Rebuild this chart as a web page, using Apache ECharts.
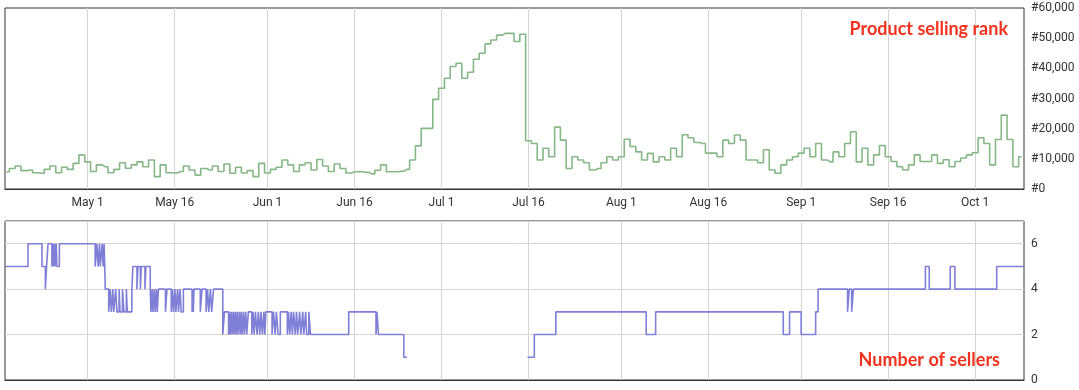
<!DOCTYPE html>
<html>
<head>
<meta charset="utf-8">
<script src="https://cdn.jsdelivr.net/npm/echarts@6/dist/echarts.min.js"></script>
<style>html,body{margin:0;padding:0;background:#fff}#c{width:1079px;height:390px}</style>
</head>
<body>
<div id="c"></div>
<script>
// ---- data ----
const axisStart = '2017-04-16 18:00';
const axisEnd = '2017-10-09 10:00';
const rankStartDate = [2017, 3, 17]; // first daily rank reading: Apr 17
const tickDates = ['2017-05-01','2017-05-16','2017-06-01','2017-06-16','2017-07-01','2017-07-16',
  '2017-08-01','2017-08-16','2017-09-01','2017-09-16','2017-10-01'];
const monthNames = ['Jan','Feb','Mar','Apr','May','Jun','Jul','Aug','Sep','Oct','Nov','Dec'];
const rankTicks = [0, 10000, 20000, 30000, 40000, 50000, 60000];
const sellerTicks = [0, 2, 4, 6];

const rankValues = [
 5700,6800,7600,6100,6300,5400,5200,6500,7600,5400,
 7200,6500,8500,11300,9000,5800,8000,7400,5400,6500,
 8700,6900,8000,9000,7400,9600,4100,8000,5400,5300,
 5800,7600,6300,4600,6800,6300,7600,5800,8300,5200,
 7200,5300,6100,4100,8500,5300,6500,7200,9600,8000,
 5800,8000,8700,6300,9800,7600,5800,8300,6800,5300,
 5700,5700,5500,5000,6200,8000,5700,5700,5900,6500,
 9600,14300,20100,20100,29700,33400,36700,40600,41700,36700,
 38700,43000,45000,48100,49400,51000,51600,51600,48900,51300,
 16000,15100,9600,13500,10700,20500,16200,6800,10700,9600,
 8700,6300,6800,8700,10700,9600,10700,16500,14100,12300,
 9600,11800,9000,10700,9600,13500,10700,18000,17000,15400,
 15100,11900,11900,10700,16200,15100,17900,16200,9600,9600,
 8700,13000,6300,5200,8000,9600,10700,11900,13500,10700,
 15100,9600,9000,12300,10700,15100,19000,9000,13500,8000,
 11300,14400,10700,9100,7400,6300,8000,11300,9100,9100,
 11300,8500,9700,7400,9100,10300,11300,12000,17000,15100,
 8000,16400,24500,16400,7400,10700
];

const sellerChanges = [
 ['2017-04-16 18:00',5],['2017-04-20 17:00',6],['2017-04-23 03:00',5],['2017-04-23 17:00',4],
 ['2017-04-23 22:00',5],['2017-04-24 04:00',6],['2017-04-24 20:00',5],['2017-04-25 01:00',6],
 ['2017-04-25 03:00',5],['2017-04-25 07:00',6],['2017-04-25 09:00',5],['2017-04-25 14:00',6],
 ['2017-04-25 17:00',5],['2017-04-26 03:00',6],
 ['2017-05-02 07:00',5],['2017-05-02 14:00',6],['2017-05-02 19:00',5],['2017-05-03 01:00',6],
 ['2017-05-03 04:00',5],['2017-05-03 12:00',6],['2017-05-03 16:00',5],['2017-05-03 20:00',6],
 ['2017-05-04 01:00',4],['2017-05-04 15:00',3],['2017-05-04 21:00',4],['2017-05-05 02:00',3],
 ['2017-05-05 08:00',4],['2017-05-05 12:00',3],['2017-05-05 20:00',4],['2017-05-06 01:00',3],
 ['2017-05-06 10:00',4],['2017-05-06 14:00',3],['2017-05-07 00:00',4],['2017-05-07 06:00',3],
 ['2017-05-07 16:00',4],['2017-05-07 20:00',3],['2017-05-08 15:00',4],['2017-05-08 19:00',5],
 ['2017-05-09 12:00',4],['2017-05-09 16:00',5],['2017-05-10 02:00',4],['2017-05-10 06:00',5],
 ['2017-05-10 21:00',4],['2017-05-11 01:00',5],['2017-05-11 19:00',4],
 ['2017-05-11 22:00',3],['2017-05-12 03:00',4],['2017-05-12 06:00',3],['2017-05-12 12:00',4],
 ['2017-05-12 15:00',3],['2017-05-12 21:00',4],['2017-05-13 00:00',3],['2017-05-13 05:00',4],
 ['2017-05-14 10:00',3],['2017-05-14 16:00',4],
 ['2017-05-15 10:00',3],['2017-05-15 15:00',4],['2017-05-15 19:00',3],['2017-05-16 01:00',4],
 ['2017-05-16 05:00',3],['2017-05-16 12:00',4],['2017-05-16 16:00',3],['2017-05-16 22:00',4],
 ['2017-05-17 03:00',3],['2017-05-17 12:00',4],
 ['2017-05-19 00:00',3],['2017-05-19 03:00',4],['2017-05-19 05:00',3],['2017-05-19 08:00',4],
 ['2017-05-20 10:00',3],['2017-05-20 17:00',4],
 ['2017-05-21 10:00',3],['2017-05-21 16:00',4],['2017-05-21 21:00',3],['2017-05-22 04:00',4],
 ['2017-05-22 09:00',3],['2017-05-22 17:00',4],
 ['2017-05-24 07:00',2],['2017-05-24 14:00',3],
 ['2017-05-25 07:00',2],['2017-05-25 11:00',3],['2017-05-25 14:00',2],['2017-05-25 19:00',3],
 ['2017-05-25 22:00',2],['2017-05-26 03:00',3],['2017-05-26 06:00',2],['2017-05-26 11:00',3],
 ['2017-05-26 14:00',2],['2017-05-26 19:00',3],['2017-05-26 22:00',2],['2017-05-27 04:00',3],
 ['2017-05-27 07:00',2],['2017-05-27 12:00',3],['2017-05-27 15:00',2],['2017-05-27 21:00',3],
 ['2017-05-28 00:00',2],['2017-05-28 06:00',3],['2017-05-28 10:00',2],['2017-05-28 17:00',3],
 ['2017-05-29 07:00',2],['2017-05-29 12:00',3],['2017-05-29 17:00',2],['2017-05-29 22:00',3],
 ['2017-05-30 05:00',2],['2017-05-30 10:00',3],['2017-05-30 16:00',2],['2017-05-30 21:00',3],
 ['2017-05-31 03:00',2],['2017-05-31 09:00',3],['2017-05-31 13:00',2],['2017-05-31 17:00',3],
 ['2017-06-01 19:00',2],['2017-06-02 01:00',3],['2017-06-02 08:00',2],['2017-06-02 13:00',3],
 ['2017-06-02 20:00',2],['2017-06-03 05:00',3],
 ['2017-06-04 10:00',2],['2017-06-04 15:00',3],['2017-06-04 20:00',2],['2017-06-05 02:00',3],
 ['2017-06-05 07:00',2],['2017-06-05 12:00',3],
 ['2017-06-05 19:00',2],['2017-06-06 00:00',3],['2017-06-06 05:00',2],['2017-06-06 13:00',3],
 ['2017-06-06 18:00',2],['2017-06-07 02:00',3],['2017-06-07 06:00',2],['2017-06-07 14:00',3],
 ['2017-06-07 18:00',2],['2017-06-08 03:00',3],['2017-06-08 10:00',2],
 ['2017-06-15 00:00',3],['2017-06-19 17:00',2],['2017-06-19 21:00',3],['2017-06-20 03:00',2],
 ['2017-06-24 12:00',1],['2017-06-25 01:00',null],
 ['2017-07-15 20:00',1],['2017-07-17 00:00',2],['2017-07-20 17:00',3],['2017-08-05 07:00',2],
 ['2017-08-06 22:00',3],['2017-08-28 22:00',2],['2017-08-30 00:00',3],['2017-09-01 00:00',2],
 ['2017-09-03 12:00',3],['2017-09-03 22:00',4],['2017-09-09 00:00',3],['2017-09-09 07:00',4],
 ['2017-09-09 17:00',3],['2017-09-10 00:00',4],['2017-09-22 10:00',5],['2017-09-23 02:00',4],
 ['2017-09-26 17:00',5],['2017-09-27 12:00',4],['2017-10-04 17:00',5],['2017-10-09 10:00',5]
];

// ---- build ----
const ts = s => echarts.time.parse(s).getTime();
const rankData = rankValues.map((v, i) => [new Date(rankStartDate[0], rankStartDate[1], rankStartDate[2] + i).getTime(), v]);
const sellerData = sellerChanges.map(p => [ts(p[0]), p[1]]);
const tickValues = tickDates.map(ts);
const fmtDate = v => { const d = new Date(v); return monthNames[d.getMonth()] + ' ' + d.getDate(); };
const fmtRank = v => '#' + v.toLocaleString('en-US');

const chart = echarts.init(document.getElementById('c'), null, {renderer: 'canvas'});
const gridLine = '#d4d4d4';
const lblFont = {color: '#333', fontSize: 12, fontFamily: 'Roboto, sans-serif'};
chart.setOption({
  animation: false,
  backgroundColor: '#fff',
  title: [
    {text: 'Product selling rank', right: 66, top: 15,
     textStyle: {color: '#f2321e', fontSize: 18, fontWeight: 'bold', fontFamily: 'Lato, sans-serif'}},
    {text: 'Number of sellers', right: 74, top: 346,
     textStyle: {color: '#f2321e', fontSize: 18, fontWeight: 'bold', fontFamily: 'Lato, sans-serif'}}
  ],
  grid: [
    {left: 5, right: 55, top: 8, height: 181, show: true, borderColor: '#333', borderWidth: 1},
    {left: 5, right: 55, top: 221, height: 159, show: true, borderColor: '#333', borderWidth: 1}
  ],
  xAxis: [
    {type: 'value', gridIndex: 0, min: ts(axisStart), max: ts(axisEnd),
     axisLine: {show: true, lineStyle: {color: '#333'}},
     axisTick: {show: true, customValues: tickValues, inside: true, length: 181, lineStyle: {color: gridLine}},
     splitLine: {show: false},
     axisLabel: Object.assign({customValues: tickValues, formatter: fmtDate, margin: 8}, lblFont)},
    {type: 'value', gridIndex: 1, min: ts(axisStart), max: ts(axisEnd),
     axisLine: {show: true, lineStyle: {color: '#333'}},
     axisTick: {show: true, customValues: tickValues, inside: true, length: 159, lineStyle: {color: gridLine}},
     splitLine: {show: false},
     axisLabel: {show: false}}
  ],
  yAxis: [
    {type: 'value', gridIndex: 0, position: 'right', min: rankTicks[0], max: rankTicks[rankTicks.length - 1], interval: 10000,
     axisLine: {show: false}, axisTick: {show: false}, splitLine: {show: false},
     axisLabel: Object.assign({formatter: fmtRank, margin: 7}, lblFont)},
    {type: 'value', gridIndex: 1, position: 'right', min: 0, max: 7, interval: 2,
     axisLine: {show: false}, axisTick: {show: false},
     splitLine: {show: true, lineStyle: {color: gridLine}},
     axisLabel: Object.assign({margin: 7, showMaxLabel: false,
       formatter: v => sellerTicks.indexOf(v) >= 0 ? String(v) : ''}, lblFont)}
  ],
  series: [
    {type: 'line', xAxisIndex: 0, yAxisIndex: 0, data: rankData, step: 'middle', showSymbol: false,
     lineStyle: {color: '#86b886', width: 1.6}, z: 3},
    {type: 'line', xAxisIndex: 1, yAxisIndex: 1, data: sellerData, step: 'end',
     showSymbol: false, connectNulls: false, lineStyle: {color: '#7f7fd8', width: 1.6}, z: 3}
  ]
});
</script>
</body>
</html>
